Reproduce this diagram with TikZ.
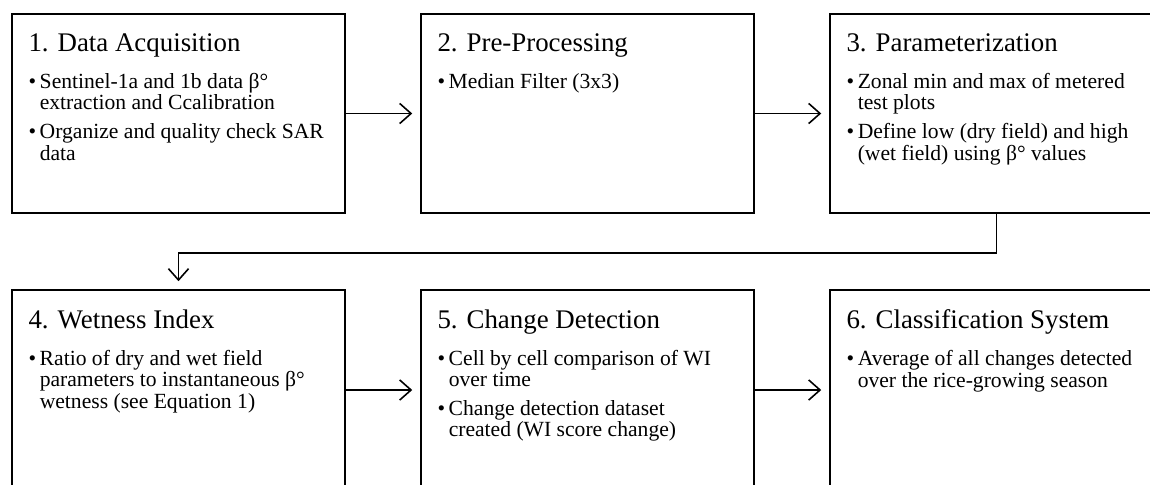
\documentclass[tikz,border=0pt]{standalone}
\usepackage{fontspec}
\setmainfont{Liberation Serif}
\usepackage{tikz}
\usetikzlibrary{
	arrows.meta,
	calc,
	positioning
}

\newcommand{\steptitle}[1]{{\fontsize{15.3}{17}\selectfont #1}}
\newcommand{\bul}{\makebox[6.4pt][l]{\textbullet}}

\begin{document}
\begin{tikzpicture}[x=0.02cm, y=-0.02cm,
	stepbox/.style={draw, line width=1pt, minimum width=6.66cm, minimum height=3.98cm, inner sep=0pt},
	steptext/.style={anchor=north west, align=left, inner sep=0pt, font=\fontsize{12.3}{12.4}\selectfont},
	flow/.style={-{Straight Barb[length=6.5pt, width=11.5pt, line width=0.9pt]}, line width=0.9pt, shorten >=4.5pt}
	]
		\useasboundingbox (0,0) rectangle (1150,484);
		% first row
		\node[stepbox] (b1) at (178.5,113.5) {};
		\node[stepbox] (b2) at (587.5,113.5) {};
		\node[stepbox] (b3) at (996.5,113.5) {};
		% second row
		\node[stepbox, minimum height=4cm] (b4) at (178.5,390) {};
		\node[stepbox, minimum height=4cm] (b5) at (587.5,390) {};
		\node[stepbox, minimum height=4cm] (b6) at (996.5,390) {};

		\node[steptext] (t1) at ([shift={(17,20)}]b1.north west) {\steptitle{1. Data Acquisition}\\[8.6pt]
			\bul Sentinel-1a and 1b data β°\\
			\hspace*{6.4pt}extraction and Ccalibration\\[3.7pt]
			\bul Organize and quality check SAR\\
			\hspace*{6.4pt}data};
		\node[steptext] (t2) at ([shift={(17,20)}]b2.north west) {\steptitle{2. Pre-Processing}\\[8.6pt]
			\bul Median Filter (3x3)};
		\node[steptext] (t3) at ([shift={(17,20)}]b3.north west) {\steptitle{3. Parameterization}\\[8.6pt]
			\bul Zonal min and max of metered\\
			\hspace*{6.4pt}test plots\\[3.7pt]
			\bul Define low (dry field) and high\\
			\hspace*{6.4pt}(wet field) using β° values};
		\node[steptext] (t4) at ([shift={(17,20)}]b4.north west) {\steptitle{4. Wetness Index}\\[8.6pt]
			\bul Ratio of dry and wet field\\
			\hspace*{6.4pt}parameters to instantaneous β°\\
			\hspace*{6.4pt}wetness (see Equation 1)};
		\node[steptext] (t5) at ([shift={(17,20)}]b5.north west) {\steptitle{5. Change Detection}\\[8.6pt]
			\bul Cell by cell comparison of WI\\
			\hspace*{6.4pt}over time\\[3.7pt]
			\bul Change detection dataset\\
			\hspace*{6.4pt}created (WI score change)};
		\node[steptext] (t6) at ([shift={(17,20)}]b6.north west) {\steptitle{6. Classification System}\\[8.6pt]
			\bul Average of all changes detected\\
			\hspace*{6.4pt}over the rice-growing season};

		% connectors
		\draw[flow] (b1) -- (b2);
		\draw[flow] (b2) -- (b3);
		\draw[flow] (b3.south) -- ++(0,39) coordinate (turn) -| (b4.north);
		\draw[flow] (b4) -- (b5);
		\draw[flow] (b5) -- (b6);
	\end{tikzpicture}
\end{document}
